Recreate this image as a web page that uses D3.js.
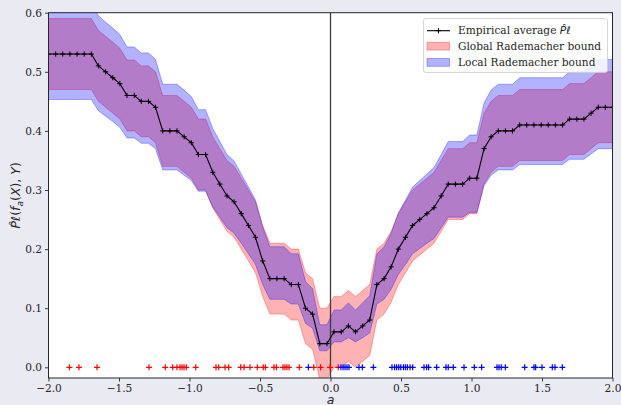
<!DOCTYPE html>
<html>
<head>
<meta charset="utf-8">
<script src="https://cdn.jsdelivr.net/npm/d3@7"></script>
<style>
  html, body { margin: 0; padding: 0; background: #eaeaf2; }
  svg { display: block; }
</style>
</head>
<body>
<svg id="chart" width="621" height="405"></svg>
<script>
// Threshold grid a on which the risk estimate and the bounds are evaluated
const aGrid = [
  -2.000, -1.949, -1.899, -1.848, -1.797, -1.747, -1.696, -1.646, -1.595, -1.544,
  -1.494, -1.443, -1.392, -1.342, -1.291, -1.241, -1.190, -1.139, -1.089, -1.038,
  -0.987, -0.937, -0.886, -0.835, -0.785, -0.734, -0.684, -0.633, -0.582, -0.532,
  -0.481, -0.430, -0.380, -0.329, -0.278, -0.228, -0.177, -0.127, -0.076, -0.025,
   0.025,  0.076,  0.127,  0.177,  0.228,  0.278,  0.329,  0.380,  0.430,  0.481,
   0.532,  0.582,  0.633,  0.684,  0.734,  0.785,  0.835,  0.886,  0.937,  0.987,
   1.038,  1.089,  1.139,  1.190,  1.241,  1.291,  1.342,  1.392,  1.443,  1.494,
   1.544,  1.595,  1.646,  1.696,  1.747,  1.797,  1.848,  1.899,  1.949,  2.000
];

// Empirical average of the loss at each threshold
const empiricalAvg = [
  0.53, 0.53, 0.53, 0.53, 0.53, 0.53, 0.53, 0.51, 0.50, 0.49,
  0.48, 0.46, 0.46, 0.45, 0.45, 0.44, 0.40, 0.40, 0.40, 0.39,
  0.38, 0.36, 0.36, 0.33, 0.31, 0.29, 0.28, 0.26, 0.24, 0.22,
  0.18, 0.15, 0.15, 0.15, 0.14, 0.14, 0.10, 0.09, 0.04, 0.04,
  0.06, 0.06, 0.07, 0.06, 0.07, 0.08, 0.14, 0.15, 0.17, 0.20,
  0.22, 0.24, 0.25, 0.26, 0.27, 0.29, 0.31, 0.31, 0.31, 0.32,
  0.32, 0.37, 0.39, 0.40, 0.40, 0.40, 0.41, 0.41, 0.41, 0.41,
  0.41, 0.41, 0.41, 0.42, 0.42, 0.42, 0.43, 0.44, 0.44, 0.44
];

// Global Rademacher bound: same half-width everywhere
const globalHalfWidth = 0.06;

// Local Rademacher bound: distance above / below the empirical average
const localUpper = [
  0.086, 0.086, 0.086, 0.086, 0.086, 0.086, 0.086, 0.085, 0.084, 0.084,
  0.083, 0.082, 0.082, 0.082, 0.082, 0.081, 0.079, 0.079, 0.079, 0.079,
  0.078, 0.076, 0.076, 0.074, 0.072, 0.070, 0.069, 0.067, 0.065, 0.063,
  0.058, 0.054, 0.054, 0.054, 0.052, 0.052, 0.045, 0.043, 0.032, 0.032,
  0.037, 0.037, 0.039, 0.037, 0.039, 0.041, 0.052, 0.054, 0.057, 0.061,
  0.063, 0.065, 0.066, 0.067, 0.068, 0.070, 0.072, 0.072, 0.072, 0.073,
  0.073, 0.077, 0.079, 0.079, 0.079, 0.079, 0.080, 0.080, 0.080, 0.080,
  0.080, 0.080, 0.080, 0.080, 0.080, 0.080, 0.081, 0.081, 0.081, 0.081
];
const localLower = [
  0.077, 0.077, 0.077, 0.077, 0.077, 0.077, 0.077, 0.076, 0.075, 0.074,
  0.074, 0.072, 0.072, 0.071, 0.071, 0.070, 0.066, 0.066, 0.066, 0.065,
  0.064, 0.062, 0.062, 0.059, 0.056, 0.054, 0.053, 0.050, 0.048, 0.046,
  0.040, 0.035, 0.035, 0.035, 0.033, 0.033, 0.026, 0.024, 0.012, 0.012,
  0.017, 0.017, 0.020, 0.017, 0.020, 0.022, 0.033, 0.035, 0.038, 0.043,
  0.046, 0.048, 0.049, 0.050, 0.052, 0.054, 0.056, 0.056, 0.056, 0.058,
  0.058, 0.063, 0.065, 0.066, 0.066, 0.066, 0.067, 0.067, 0.067, 0.067,
  0.067, 0.067, 0.067, 0.068, 0.068, 0.068, 0.069, 0.070, 0.070, 0.070
];

// Sample positions, drawn on the a-axis and coloured by class
const samplesNeg = [
  -1.852, -1.784, -1.656, -1.287, -1.172, -1.119, -1.089, -1.067, -1.053, -1.039,
  -1.023, -0.956, -0.812, -0.793, -0.748, -0.722, -0.637, -0.613, -0.571, -0.519,
  -0.477, -0.462, -0.401, -0.384, -0.337, -0.323, -0.309, -0.294, -0.221, -0.119,
  -0.070, -0.003, 0.055
];
const samplesPos = [
  -0.157, 0.074, 0.089, 0.103, 0.117, 0.131, 0.202, 0.226, 0.304, 0.436,
  0.455, 0.469, 0.484, 0.498, 0.517, 0.531, 0.545, 0.564, 0.583, 0.663,
  0.682, 0.696, 0.753, 0.819, 0.835, 0.871, 0.947, 1.020, 1.072, 1.181,
  1.195, 1.211, 1.240, 1.377, 1.443, 1.455, 1.500, 1.573, 1.592, 1.644
];

const xTicks = [-2.0, -1.5, -1.0, -0.5, 0.0, 0.5, 1.0, 1.5, 2.0];
const yTicks = [0.0, 0.1, 0.2, 0.3, 0.4, 0.5, 0.6];

// ---------------------------------------------------------------------------
const plot = { left: 48.5, right: 612.5, top: 12.7, bottom: 378 };
const svg = d3.select("#chart");
const serif = "'DejaVu Serif', 'Liberation Serif', serif";
const mathFont = "'DejaVu Sans', sans-serif";

const x = d3.scaleLinear().domain([-2, 2]).range([plot.left, plot.right]);
const y = d3.scaleLinear().domain([-0.0181, 0.6]).range([plot.bottom, plot.top]);

svg.append("rect").attr("width", 621).attr("height", 405).attr("fill", "#eaeaf2");
svg.append("rect")
  .attr("x", plot.left).attr("y", plot.top)
  .attr("width", plot.right - plot.left).attr("height", plot.bottom - plot.top)
  .attr("fill", "#ffffff");

svg.append("clipPath").attr("id", "plotClip")
  .append("rect")
  .attr("x", plot.left).attr("y", plot.top)
  .attr("width", plot.right - plot.left).attr("height", plot.bottom - plot.top);

const rows = aGrid.map((a, i) => ({
  a,
  p: empiricalAvg[i],
  gLo: empiricalAvg[i] - globalHalfWidth,
  gHi: empiricalAvg[i] + globalHalfWidth,
  lLo: empiricalAvg[i] - localLower[i],
  lHi: empiricalAvg[i] + localUpper[i]
}));

const inner = svg.append("g").attr("clip-path", "url(#plotClip)");

const bandGlobal = d3.area().x(d => x(d.a)).y0(d => y(d.gLo)).y1(d => y(d.gHi));
const bandLocal = d3.area().x(d => x(d.a)).y0(d => y(d.lLo)).y1(d => y(d.lHi));

inner.append("path").datum(rows).attr("d", bandGlobal)
  .attr("fill", "#ff0000").attr("fill-opacity", 0.3)
  .attr("stroke", "#ff0000").attr("stroke-opacity", 0.3).attr("stroke-width", 1);
inner.append("path").datum(rows).attr("d", bandLocal)
  .attr("fill", "#0000ff").attr("fill-opacity", 0.3)
  .attr("stroke", "#0000ff").attr("stroke-opacity", 0.3).attr("stroke-width", 1);

// vertical reference at a = 0
inner.append("line")
  .attr("x1", x(0)).attr("x2", x(0)).attr("y1", plot.top).attr("y2", plot.bottom)
  .attr("stroke", "#3c3c3c").attr("stroke-width", 1.3);

const plus = s => `M${-s},0H${s}M0,${-s}V${s}`;

// samples along the axis
inner.selectAll("path.neg").data(samplesNeg).join("path")
  .attr("class", "neg")
  .attr("transform", d => `translate(${x(d)},${y(0)})`)
  .attr("d", plus(3)).attr("stroke", "#ff0000").attr("stroke-width", 1.2).attr("fill", "none");
inner.selectAll("path.pos").data(samplesPos).join("path")
  .attr("class", "pos")
  .attr("transform", d => `translate(${x(d)},${y(0)})`)
  .attr("d", plus(3)).attr("stroke", "#0000ff").attr("stroke-width", 1.2).attr("fill", "none");

// empirical average
inner.append("path").datum(rows)
  .attr("d", d3.line().x(d => x(d.a)).y(d => y(d.p)))
  .attr("fill", "none").attr("stroke", "#000").attr("stroke-width", 1.1);
inner.selectAll("path.avgpt").data(rows).join("path")
  .attr("class", "avgpt")
  .attr("transform", d => `translate(${x(d.a)},${y(d.p)})`)
  .attr("d", plus(2.6)).attr("stroke", "#000").attr("stroke-width", 1).attr("fill", "none");

// frame
svg.append("rect")
  .attr("x", plot.left).attr("y", plot.top)
  .attr("width", plot.right - plot.left).attr("height", plot.bottom - plot.top)
  .attr("fill", "none").attr("stroke", "#262626").attr("stroke-width", 1);

// axes
const fmt = v => d3.format(".1f")(v).replace("-", "\u2212");
const xAxis = svg.append("g").attr("transform", `translate(0,${plot.bottom})`)
  .call(d3.axisBottom(x).tickValues(xTicks).tickFormat(fmt).tickSize(3.5).tickPadding(3));
const yAxis = svg.append("g").attr("transform", `translate(${plot.left},0)`)
  .call(d3.axisLeft(y).tickValues(yTicks).tickFormat(fmt).tickSize(3.5).tickPadding(3));
[xAxis, yAxis].forEach(g => {
  g.select(".domain").remove();
  g.selectAll(".tick line").attr("stroke", "#262626").attr("stroke-width", 0.9);
  g.selectAll(".tick text").attr("fill", "#262626")
    .style("font-family", serif).style("font-size", "10.6px");
});

// axis titles
svg.append("text")
  .attr("x", x(0)).attr("y", 403.5)
  .attr("text-anchor", "middle")
  .style("font-family", mathFont).style("font-style", "italic").style("font-size", "12.5px")
  .attr("fill", "#262626")
  .text("a");

const yl = svg.append("text")
  .attr("transform", `translate(20,${(plot.top + plot.bottom) / 2}) rotate(-90)`)
  .attr("text-anchor", "middle")
  .style("font-family", mathFont).style("font-size", "12.5px")
  .attr("fill", "#262626");
yl.append("tspan").style("font-style", "italic").text("P\u0302\u2113");
yl.append("tspan").text("(");
yl.append("tspan").style("font-style", "italic").text("f");
yl.append("tspan").style("font-style", "italic").style("font-size", "9px").attr("dy", 2.5).text("a");
yl.append("tspan").attr("dy", -2.5).text("(");
yl.append("tspan").style("font-style", "italic").text("X");
yl.append("tspan").text("), ");
yl.append("tspan").style("font-style", "italic").text("Y");
yl.append("tspan").text(")");

// legend
const lg = svg.append("g");
lg.append("rect")
  .attr("x", 423.5).attr("y", 18.5).attr("width", 184).attr("height", 54).attr("rx", 2.5)
  .attr("fill", "#ffffff").attr("fill-opacity", 0.8)
  .attr("stroke", "#cccccc").attr("stroke-opacity", 0.8).attr("stroke-width", 1);

lg.append("line").attr("x1", 427).attr("x2", 450).attr("y1", 30.7).attr("y2", 30.7)
  .attr("stroke", "#000").attr("stroke-width", 1.1);
lg.append("path").attr("transform", "translate(438.5,30.7)").attr("d", plus(2.6))
  .attr("stroke", "#000").attr("stroke-width", 1).attr("fill", "none");
lg.append("rect").attr("x", 427).attr("y", 42.3).attr("width", 22.5).attr("height", 7.8)
  .attr("fill", "#ff0000").attr("fill-opacity", 0.3)
  .attr("stroke", "#ff0000").attr("stroke-opacity", 0.3);
lg.append("rect").attr("x", 427).attr("y", 58.5).attr("width", 22.5).attr("height", 7.8)
  .attr("fill", "#0000ff").attr("fill-opacity", 0.3)
  .attr("stroke", "#0000ff").attr("stroke-opacity", 0.3);

const legendText = (yPos) => lg.append("text").attr("x", 458).attr("y", yPos)
  .style("font-family", serif).style("font-size", "10.6px").attr("fill", "#262626");
const t1 = legendText(34.4);
t1.append("tspan").text("Empirical average ");
t1.append("tspan").style("font-family", mathFont).style("font-style", "italic").text("P\u0302\u2113");
legendText(50.4).text("Global Rademacher bound");
legendText(66.4).text("Local Rademacher bound");
</script>
</body>
</html>
